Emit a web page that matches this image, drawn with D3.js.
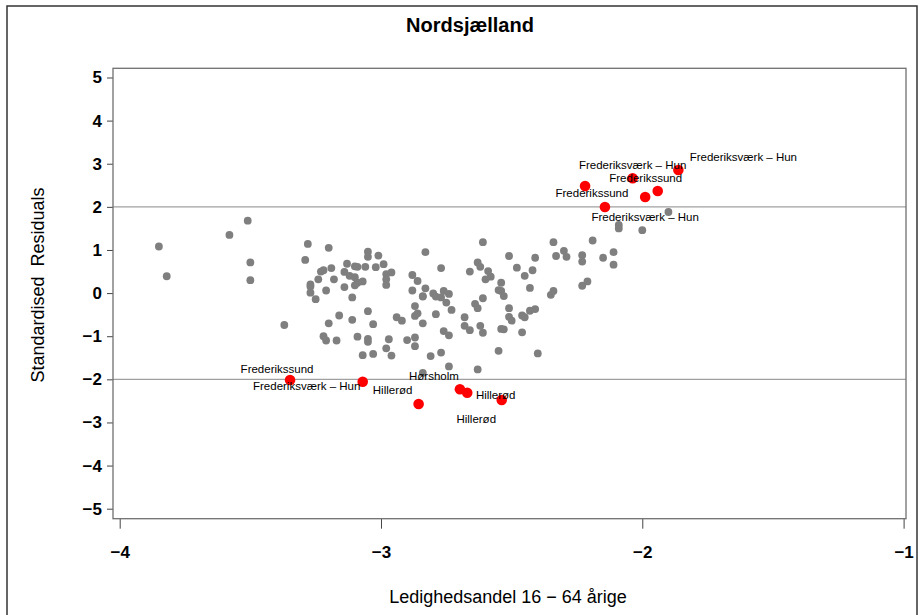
<!DOCTYPE html>
<html>
<head>
<meta charset="utf-8">
<script src="https://cdn.jsdelivr.net/npm/d3@7"></script>
<style>
  html, body { margin: 0; padding: 0; background: #fff; }
  svg { display: block; font-family: "Liberation Sans", Arial, Helvetica, sans-serif; }
</style>
</head>
<body>
<svg id="chart" width="921" height="615"></svg>
<script>
// ---------------- DATA ----------------
const chartTitle = "Nordsjælland";
const xAxisTitle = "Ledighedsandel 16 − 64 årige";
const yAxisTitle = "Standardised  Residuals";
const xTicks = [-4, -3, -2, -1];
const yTicks = [-5, -4, -3, -2, -1, 0, 1, 2, 3, 4, 5];
const refLines = [-2, 2];

// grey (non-outlier) municipalities: ledighedsandel (log), standardised residual
const greyX = [
  -3.51, -3.58, -3.85, -3.50, -3.82, -3.50, -3.28, -3.20, -3.29, -3.23,
  -3.22, -3.19, -3.24, -3.27, -3.27, -3.21, -3.27, -3.25, -3.37, -3.20,
  -3.22, -3.21, -3.05, -3.05, -3.01, -2.83, -2.61, -3.13, -3.14, -3.10,
  -3.09, -3.06, -3.02, -2.99, -3.12, -3.10, -3.09, -3.07, -3.10, -3.14,
  -3.18, -3.11, -2.98, -2.98, -2.98, -2.96, -2.88, -2.86, -2.83, -2.88,
  -2.77, -2.80, -2.79, -2.77, -2.76, -2.74, -2.84, -2.84, -2.75, -2.87,
  -2.86, -2.87, -2.73, -2.79, -2.84, -3.05, -3.16, -3.11, -3.03, -2.94,
  -2.92, -2.66, -2.63, -2.62, -2.59, -2.60, -2.58, -2.64, -2.63, -2.61,
  -2.68, -2.68, -2.66, -2.62, -2.61, -2.76, -2.74, -3.17, -3.09, -3.05,
  -3.05, -2.97, -2.90, -2.87, -2.87, -2.98, -2.96, -3.07, -3.03, -2.81,
  -2.77, -2.74, -2.63, -2.84, -2.34, -2.19, -2.09, -2.09, -2.00, -2.51,
  -2.41, -2.33, -2.30, -2.29, -2.23, -2.23, -2.15, -2.11, -2.11, -2.48,
  -2.42, -2.45, -2.54, -2.55, -2.54, -2.53, -2.43, -2.34, -2.35, -2.23,
  -2.21, -2.51, -2.51, -2.50, -2.43, -2.41, -2.46, -2.45, -2.54, -2.53,
  -2.46, -2.55, -2.40, -1.90
];
const greyY = [
   1.68,  1.35,  1.08,  0.71,  0.39,  0.30,  1.14,  1.05,  0.77,  0.50,
   0.53,  0.58,  0.32,  0.20,  0.15,  0.06,  0.01, -0.14, -0.74, -0.70,
  -1.00, -1.10,  0.96,  0.84,  0.87,  0.95,  1.18,  0.68,  0.49,  0.62,
   0.61,  0.61,  0.60,  0.67,  0.40,  0.37,  0.24,  0.27,  0.18,  0.14,
   0.32, -0.10,  0.44,  0.32,  0.19,  0.48,  0.42,  0.28,  0.11,  0.06,
   0.58, -0.01, -0.08, -0.10,  0.05, -0.02, -0.08, -0.07, -0.22, -0.30,
  -0.47, -0.53, -0.39, -0.49, -0.70, -0.42, -0.52, -0.62, -0.72, -0.56,
  -0.64,  0.50,  0.71,  0.61,  0.51,  0.32,  0.38, -0.25, -0.35, -0.12,
  -0.56, -0.76, -0.86, -0.76, -0.92, -0.88, -0.98, -1.10, -1.01, -1.06,
  -1.13, -1.07, -1.09, -1.03, -1.23, -1.28, -1.45, -1.44, -1.41, -1.46,
  -1.38, -1.70, -1.77, -1.85,  1.18,  1.22,  1.58,  1.50,  1.46,  0.86,
   0.82,  0.86,  0.98,  0.84,  0.88,  0.73,  0.82,  0.95,  0.66,  0.59,
   0.53,  0.40,  0.24,  0.07,  0.05, -0.07,  0.12,  0.05, -0.04,  0.17,
   0.27, -0.35, -0.55, -0.64, -0.41, -0.37, -0.52, -0.56, -0.83, -0.84,
  -0.91, -1.34, -1.40,  1.88
];

// red (outlier, |residual| >= 2) municipalities
const redNames = [
  "Frederiksværk – Hun", "Frederiksværk – Hun", "Frederikssund", "Frederiksværk – Hun",
  "", "Frederikssund",
  "Frederikssund", "Frederiksværk – Hun", "Hillerød", "Hørsholm", "Hillerød", "Hillerød"
];
const redX = [-1.862, -2.037, -1.941, -1.989, -2.219, -2.143, -3.348, -3.070, -2.856, -2.698, -2.670, -2.538];
const redY = [ 2.853,  2.662,  2.368,  2.229,  2.484,  1.997, -2.015, -2.055, -2.572, -2.231, -2.310, -2.479];

// label placement relative to the marker (layout, px)
const labelDX = [65, 0, -12, 0, 0, -13, -13, -56, -26, -26, 9, -6];
const labelDY = [-13, -13, -13, 20, 0, -14, -11, 4, -14, -13, 26, -5];

// ---------------- DRAW ----------------
const svg = d3.select("#chart");
const W = 921, H = 615;
const plot = { left: 113, right: 906, top: 68.3, bottom: 518.7 };

const x = d3.scaleLinear().domain([-4.0256, -0.9908]).range([plot.left, plot.right]);
const y = d3.scaleLinear().domain([-5.232, 5.213]).range([plot.bottom, plot.top]);

// outer border
svg.append("rect")
  .attr("x", 7).attr("y", 6).attr("width", 910).attr("height", 640)
  .attr("fill", "none").attr("stroke", "#333").attr("stroke-width", 1.5);

const minus = d => (d < 0 ? "\u2212" + Math.abs(d) : String(d));

// reference lines
svg.append("g").selectAll("line").data(refLines).join("line")
  .attr("x1", plot.left).attr("x2", plot.right)
  .attr("y1", d => y(d)).attr("y2", d => y(d))
  .attr("stroke", "#a0a0a0").attr("stroke-width", 1.2);

// y axis
const yAxis = svg.append("g").attr("transform", `translate(${plot.left},0)`)
  .call(d3.axisLeft(y).tickValues(yTicks).tickSize(6).tickPadding(5).tickFormat(minus));
yAxis.select(".domain").remove();
yAxis.selectAll(".tick line").attr("stroke", "#444");
yAxis.selectAll(".tick text").attr("font-size", 17).attr("font-weight", "bold")
  .attr("fill", "#000").attr("font-family", "Liberation Sans, Arial, sans-serif");

// x axis
const xAxis = svg.append("g").attr("transform", `translate(0,${plot.bottom})`)
  .call(d3.axisBottom(x).tickValues(xTicks).tickSize(10).tickPadding(17).tickFormat(minus));
xAxis.select(".domain").remove();
xAxis.selectAll(".tick line").attr("stroke", "#444");
xAxis.selectAll(".tick text").attr("font-size", 17).attr("font-weight", "bold")
  .attr("fill", "#000").attr("font-family", "Liberation Sans, Arial, sans-serif");

// plot frame
svg.append("rect")
  .attr("x", plot.left).attr("y", plot.top)
  .attr("width", plot.right - plot.left).attr("height", plot.bottom - plot.top)
  .attr("fill", "none").attr("stroke", "#707070").attr("stroke-width", 1.3);

// grey points
const greyData = greyX.map((v, i) => ({ x: v, y: greyY[i] }));
svg.append("g").selectAll("circle").data(greyData).join("circle")
  .attr("cx", d => x(d.x)).attr("cy", d => y(d.y)).attr("r", 3.9)
  .attr("fill", "#7f7f7f");

// red points
const redData = redX.map((v, i) => ({ x: v, y: redY[i], name: redNames[i], dx: labelDX[i], dy: labelDY[i] }));
svg.append("g").selectAll("circle").data(redData).join("circle")
  .attr("cx", d => x(d.x)).attr("cy", d => y(d.y)).attr("r", 5.3)
  .attr("fill", "#ff0000");

// labels
svg.append("g").selectAll("text").data(redData.filter(d => d.name)).join("text")
  .attr("x", d => x(d.x) + d.dx).attr("y", d => y(d.y) + d.dy)
  .attr("text-anchor", "middle").attr("dominant-baseline", "central")
  .attr("font-size", 11.5).attr("fill", "#000")
  .text(d => d.name);

// titles
svg.append("text").attr("x", 470).attr("y", 32).attr("text-anchor", "middle")
  .attr("font-size", 20).attr("font-weight", "bold").text(chartTitle);

svg.append("text").attr("x", 508).attr("y", 603).attr("text-anchor", "middle")
  .attr("font-size", 18).text(xAxisTitle);

svg.append("text")
  .attr("transform", "translate(44,285) rotate(-90)")
  .attr("text-anchor", "middle").attr("font-size", 18)
  .style("white-space", "pre").text(yAxisTitle);
</script>
</body>
</html>
